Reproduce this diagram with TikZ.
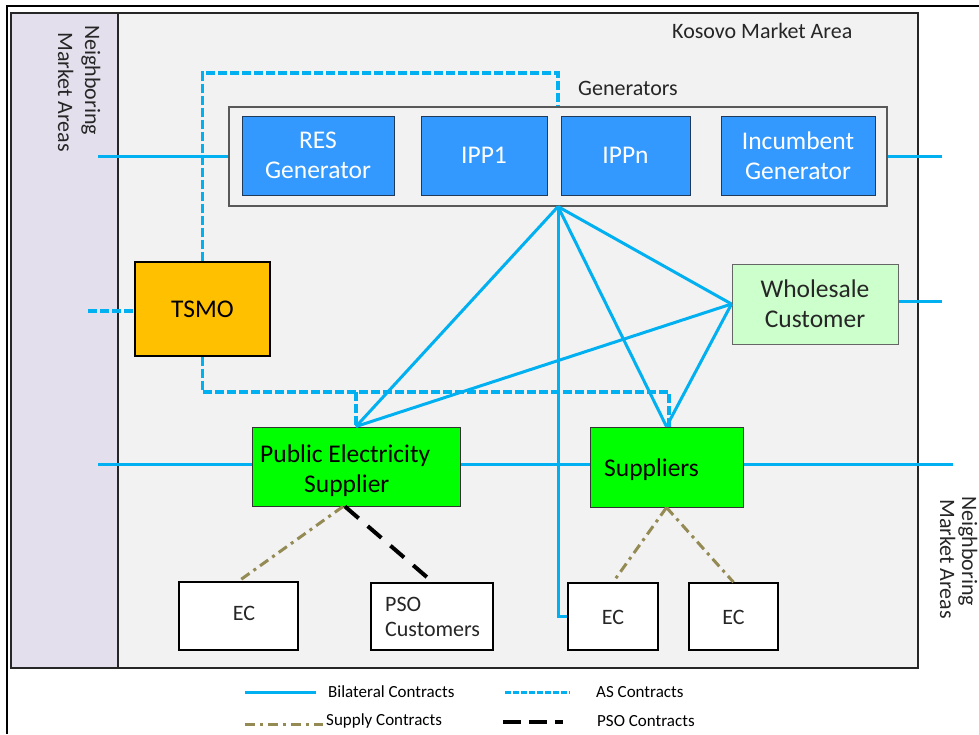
\documentclass[tikz,border=0pt]{standalone}
\usepackage{fontspec}
\setmainfont{Carlito}
\definecolor{cBlue}{HTML}{00B0F0}
\definecolor{cGen}{HTML}{3399FF}
\definecolor{cGenB}{HTML}{1F3A5A}
\definecolor{cOlive}{HTML}{948A54}
\definecolor{cBand}{HTML}{E4DFEC}
\definecolor{cBg}{HTML}{F2F2F2}
\definecolor{cTxt}{HTML}{262626}
\definecolor{cTsmo}{HTML}{FFC000}
\definecolor{cGreen}{HTML}{00FF00}
\definecolor{cLight}{HTML}{CCFFCC}
\tikzset{
  bil/.style={draw=cBlue, line width=3pt},
  asl/.style={draw=cBlue, line width=3.4pt, dash pattern=on 9pt off 3pt},
  supl/.style={draw=cOlive, line width=3pt, dash pattern=on 10pt off 5pt on 3pt off 5pt},
  psol/.style={draw=black, line width=4pt, dash pattern=on 18pt off 12pt},
  box/.style={rectangle, inner sep=0pt, align=center, line width=1pt},
  genbox/.style={box, fill=cGen, draw=cGenB, text=white, font=\fontsize{25.5}{30}\selectfont},
  midbox/.style={box, draw=black!80, text=black, font=\fontsize{25.5}{30}\selectfont},
  boxtxt/.style={inner sep=0pt, text=black, font=\fontsize{25.5}{30}\selectfont},
  ecbox/.style={box, fill=white, draw=black, line width=1.6pt, text=cTxt, font=\fontsize{22}{25}\selectfont},
  ectxt/.style={inner sep=0pt, text=cTxt, font=\fontsize{22}{25}\selectfont},
  lab/.style={inner sep=0pt, text=cTxt, font=\fontsize{22}{25}\selectfont},
  leg/.style={inner sep=0pt, anchor=west, text=black, font=\fontsize{17}{19}\selectfont},
}
\begin{document}
\begin{tikzpicture}[x=1pt, y=-1pt]
\useasboundingbox (0,0) rectangle (979,734);
\fill[white] (0,0) rectangle (979,734);
% outer frame
\draw[black, line width=2pt] (979,6) -- (7,6) -- (7,734);
% inner area
\fill[cBg] (11,13) rectangle (918,668);
\fill[cBand] (11,13) rectangle (118,668);
\draw[black!85, line width=2pt] (11,13) rectangle (918,668);
\draw[black!85, line width=1.6pt] (118,13) -- (118,668);
% side labels
\node[lab, rotate=-90, anchor=base west] (nbL1) at (85,25) {Neighboring};
\node[lab, rotate=-90, anchor=base west] (nbL2) at (58,32) {Market Areas};
\node[lab, rotate=-90, anchor=base west] (nbR1) at (962,496) {Neighboring};
\node[lab, rotate=-90, anchor=base west] (nbR2) at (940,499) {Market Areas};
\node[lab, anchor=base west] (kma) at (672,38) {Kosovo Market Area};
\node[lab, anchor=base west] (genlab) at (578,95) {Generators};
% generators group
\node[box, fill=cBg, draw=black!65, line width=1.2pt, minimum width=658pt, minimum height=99pt] (gens) at (558,156.5) {};
\node[genbox, minimum width=152pt, minimum height=79pt] (res) at (318,155.5) {RES\\Generator};
\node[genbox, minimum width=126pt, minimum height=79pt] (ipp1) at (484,155.5) {IPP1};
\node[genbox, minimum width=129pt, minimum height=79pt] (ippn) at (625.5,155.5) {IPPn};
\node[genbox, minimum width=154pt, minimum height=79pt] (inc) at (798,155.5) {Incumbent\\Generator};
% other boxes
\node[midbox, fill=cTsmo, draw=black, line width=1.4pt, minimum width=135pt, minimum height=94pt] (tsmo) at (202.5,309) {TSMO};
\node[midbox, fill=cLight, draw=black!60, text=cTxt, minimum width=166pt, minimum height=80pt] (whole) at (815,304) {Wholesale\\Customer};
\node[midbox, fill=cGreen, minimum width=208pt, minimum height=79pt] (pes) at (356,466.5) {};
\node[boxtxt, anchor=base west] (pesT1) at (260,462) {Public Electricity};
\node[boxtxt, anchor=base west] (pesT2) at (304,492) {Supplier};
\node[midbox, fill=cGreen, minimum width=153pt, minimum height=80pt] (sup) at (666.5,467) {};
\node[boxtxt, anchor=base west] (supT) at (604,476) {Suppliers};
\node[ecbox, minimum width=119pt, minimum height=68pt] (ec1) at (238.5,616) {};
\node[ectxt, anchor=base] (ec1T) at (244,620) {EC};
\node[ecbox, minimum width=122pt, minimum height=67pt] (pso) at (432,616.5) {};
\node[ectxt, anchor=base west] (psoT1) at (385,611) {PSO};
\node[ectxt, anchor=base west] (psoT2) at (385,636) {Customers};
\node[ecbox, minimum width=90pt, minimum height=67pt] (ec3) at (613,616.5) {};
\node[ectxt, anchor=base] (ec3T) at (613,624) {EC};
\node[ecbox, minimum width=89pt, minimum height=67pt] (ec4) at (733.5,616.5) {};
\node[ectxt, anchor=base] (ec4T) at (733.5,624) {EC};
% free ends
\coordinate (lg) at (98,156.5);
\coordinate (rg) at (942,156.5);
\coordinate (rw) at (942,301);
\coordinate (lp) at (98,464);
\coordinate (rs) at (953,464);
\coordinate (lt) at (88,311);
\coordinate (asTop) at (558,73);
\coordinate (asB) at (669,392);
% bilateral
\draw[bil] (lg) -- (gens.west);
\draw[bil] (gens.east) -- (rg);
\draw[bil] (whole.east |- rw) -- (rw);
\draw[bil] (lp) -- (pes.west |- lp);
\draw[bil] (pes.east |- lp) -- (sup.west |- lp);
\draw[bil] (sup.east |- rs) -- (rs);
\draw[bil, line join=round] (gens.south) -- (pes.north);
\draw[bil, line join=round] (gens.south) -- (sup.north);
\draw[bil, line join=round] (gens.south) -- (whole.west);
\draw[bil] (whole.west) -- (pes.north);
\draw[bil] (whole.west) -- (sup.north);
\draw[bil] (gens.south) |- (ec3.west);
% AS
\draw[asl] (tsmo.north) |- (asTop) -- (gens.north);
\draw[asl] (tsmo.south) |- (asB) -- (asB |- sup.north);
\draw[asl] (pes.north |- asB) -- (pes.north);
\draw[asl] (lt) -- (tsmo.west |- lt);
% supply
\draw[supl] ([xshift=-13pt]pes.south) -- (ec1.north);
\draw[supl] (sup.south) -- (ec3.north);
\draw[supl] (sup.south) -- (ec4.north);
\draw[psol] ([xshift=-11pt]pes.south) -- ([xshift=-5pt,yshift=5pt]pso.north);
% legend
\coordinate (l1a) at (245,692); \coordinate (l1b) at (316,692);
\coordinate (l2a) at (505,692); \coordinate (l2b) at (570,692);
\coordinate (l3a) at (245,724); \coordinate (l3b) at (323,724);
\coordinate (l4a) at (503,722); \coordinate (l4b) at (563,722);
\draw[bil] (l1a) -- (l1b);
\draw[asl, line width=3pt, dash pattern=on 6pt off 2pt] (l2a) -- (l2b);
\draw[supl] (l3a) -- (l3b);
\draw[psol, dash pattern=on 18pt off 8pt] (l4a) -- (l4b);
\node[leg] (t1) at (328,692) {Bilateral Contracts};
\node[leg] (t2) at (596,692) {AS Contracts};
\node[leg] (t3) at (326,721) {Supply Contracts};
\node[leg] (t4) at (597,721) {PSO Contracts};
\end{tikzpicture}
\end{document}
